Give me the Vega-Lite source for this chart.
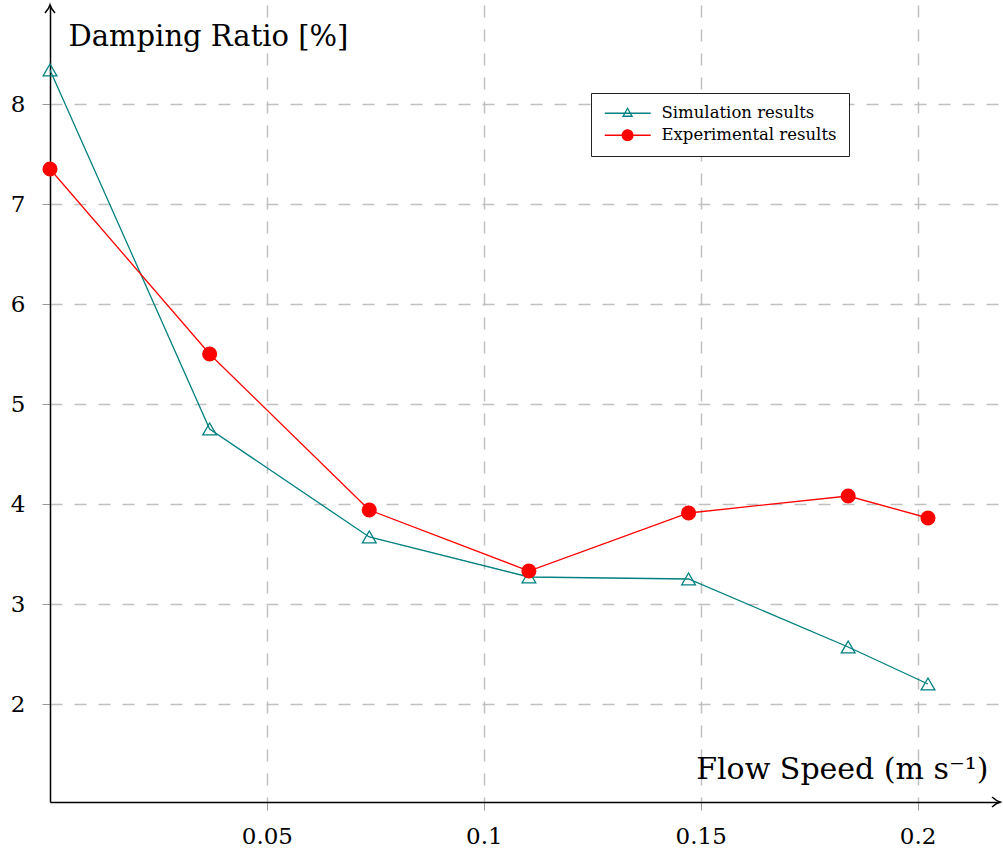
{
  "$schema": "https://vega.github.io/schema/vega-lite/v6.json",
  "width": 950,
  "height": 797,
  "autosize": {"type": "none"},
  "padding": {"left": 50, "top": 5, "right": 3, "bottom": 50},
  "background": "white",
  "config": {"view": {"stroke": null}, "font": "DejaVu Serif"},
  "datasets": {
    "main": [
      {"series": "Simulation results", "x": 0, "y": 8.34},
      {"series": "Simulation results", "x": 0.0368, "y": 4.75},
      {"series": "Simulation results", "x": 0.0736, "y": 3.67},
      {"series": "Simulation results", "x": 0.1104, "y": 3.27},
      {"series": "Simulation results", "x": 0.1472, "y": 3.25},
      {"series": "Simulation results", "x": 0.184, "y": 2.57},
      {"series": "Simulation results", "x": 0.2024, "y": 2.2},
      {"series": "Experimental results", "x": 0, "y": 7.35},
      {"series": "Experimental results", "x": 0.0368, "y": 5.5},
      {"series": "Experimental results", "x": 0.0736, "y": 3.94},
      {"series": "Experimental results", "x": 0.1104, "y": 3.33},
      {"series": "Experimental results", "x": 0.1472, "y": 3.91},
      {"series": "Experimental results", "x": 0.184, "y": 4.08},
      {"series": "Experimental results", "x": 0.2024, "y": 3.86}
    ],
    "arrows": [
      {"dir": "up", "x": 0, "y": 8.99},
      {"dir": "right", "x": 0.219, "y": 1.02}
    ]
  },
  "data": {"name": "main"},
  "encoding": {
    "x": {
      "field": "x",
      "type": "quantitative",
      "scale": {"domain": [0, 0.219], "nice": false, "zero": false},
      "axis": {
        "values": [0.05, 0.1, 0.15, 0.2],
        "format": "~g",
        "title": "Flow Speed (m s⁻¹)",
        "titleX": 938,
        "titleY": -24,
        "titleAlign": "right",
        "titleAnchor": null,
        "titleBaseline": "alphabetic",
        "titleFontSize": 30,
        "titleFontWeight": "normal",
        "titleFont": "DejaVu Serif",
        "titleColor": "black",
        "grid": true,
        "gridDash": [12, 12],
        "gridColor": "#c0c0c0",
        "gridWidth": 1.5,
        "domainColor": "black",
        "domainWidth": 1.5,
        "tickColor": "#999999",
        "tickSize": 8,
        "tickWidth": 1,
        "labelFont": "DejaVu Serif",
        "labelFontSize": 23,
        "labelPadding": 15,
        "labelColor": "black"
      }
    },
    "y": {
      "field": "y",
      "type": "quantitative",
      "scale": {"domain": [1.02, 8.99], "nice": false, "zero": false},
      "axis": {
        "values": [2, 3, 4, 5, 6, 7, 8],
        "format": "~g",
        "title": "Damping Ratio [%]",
        "titleAngle": 0,
        "titleX": 18,
        "titleY": 40,
        "titleAlign": "left",
        "titleAnchor": null,
        "titleBaseline": "alphabetic",
        "titleFontSize": 29,
        "titleFontWeight": "normal",
        "titleFont": "DejaVu Serif",
        "titleColor": "black",
        "grid": true,
        "gridDash": [12, 12],
        "gridColor": "#c0c0c0",
        "gridWidth": 1.5,
        "domainColor": "black",
        "domainWidth": 1.5,
        "tickColor": "#999999",
        "tickSize": 8,
        "tickWidth": 1,
        "labelFont": "DejaVu Serif",
        "labelFontSize": 23,
        "labelPadding": 17,
        "labelColor": "black"
      }
    }
  },
  "layer": [
    {
      "transform": [{"filter": "datum.series === 'Simulation results'"}],
      "mark": {"type": "line", "strokeWidth": 1.3},
      "encoding": {
        "color": {
          "field": "series",
          "type": "nominal",
          "scale": {"domain": ["Simulation results", "Experimental results"], "range": ["#008080", "#ff0000"]},
          "legend": {
            "title": null,
            "orient": "none",
            "legendX": 541,
            "legendY": 88,
            "padding": 12,
            "strokeColor": "#222222",
            "fillColor": "white",
            "cornerRadius": 0,
            "labelFont": "DejaVu Serif",
            "labelFontSize": 16.5,
            "labelLimit": 400,
            "labelColor": "black",
            "symbolSize": 144,
            "symbolStrokeWidth": 1.3,
            "rowPadding": 5,
            "labelOffset": 42,
            "encode": {
              "symbols": {
                "update": {
                  "shape": {"signal": "datum.value === 'Simulation results' ? 'M-1.08,0L6.58,0M2.72,-0.83L3.47,0.5L1.97,0.5Z' : 'M-1.08,0L6.58,0M3.62,0A0.9,0.9 0 1,1 1.82,0A0.9,0.9 0 1,1 3.62,0Z'"},
                  "fill": {"signal": "datum.value === 'Simulation results' ? 'transparent' : '#ff0000'"},
                  "fillOpacity": {"value": 1},
                  "strokeOpacity": {"value": 1}
                }
              }
            }
          }
        }
      }
    },
    {
      "transform": [{"filter": "datum.series === 'Simulation results'"}],
      "mark": {"type": "point", "shape": "triangle-up", "filled": false, "color": "#008080", "size": 190, "strokeWidth": 1.3, "opacity": 1}
    },
    {
      "transform": [{"filter": "datum.series === 'Experimental results'"}],
      "mark": {"type": "line", "strokeWidth": 1.3},
      "encoding": {
        "color": {"field": "series", "type": "nominal"}
      }
    },
    {
      "transform": [{"filter": "datum.series === 'Experimental results'"}],
      "mark": {"type": "point", "shape": "circle", "filled": true, "color": "#ff0000", "size": 227, "opacity": 1}
    },
    {
      "data": {"name": "arrows"},
      "transform": [{"filter": "datum.dir === 'up'"}],
      "mark": {"type": "point", "shape": "M-1,1.6Q-0.2,0.7 0,0Q0.2,0.7 1,1.6", "filled": false, "color": "black", "size": 100, "strokeWidth": 1.5, "opacity": 1}
    },
    {
      "data": {"name": "arrows"},
      "transform": [{"filter": "datum.dir === 'right'"}],
      "mark": {"type": "point", "shape": "M-1,1.6Q-0.2,0.7 0,0Q0.2,0.7 1,1.6", "angle": 90, "filled": false, "color": "black", "size": 100, "strokeWidth": 1.5, "opacity": 1}
    }
  ]
}
